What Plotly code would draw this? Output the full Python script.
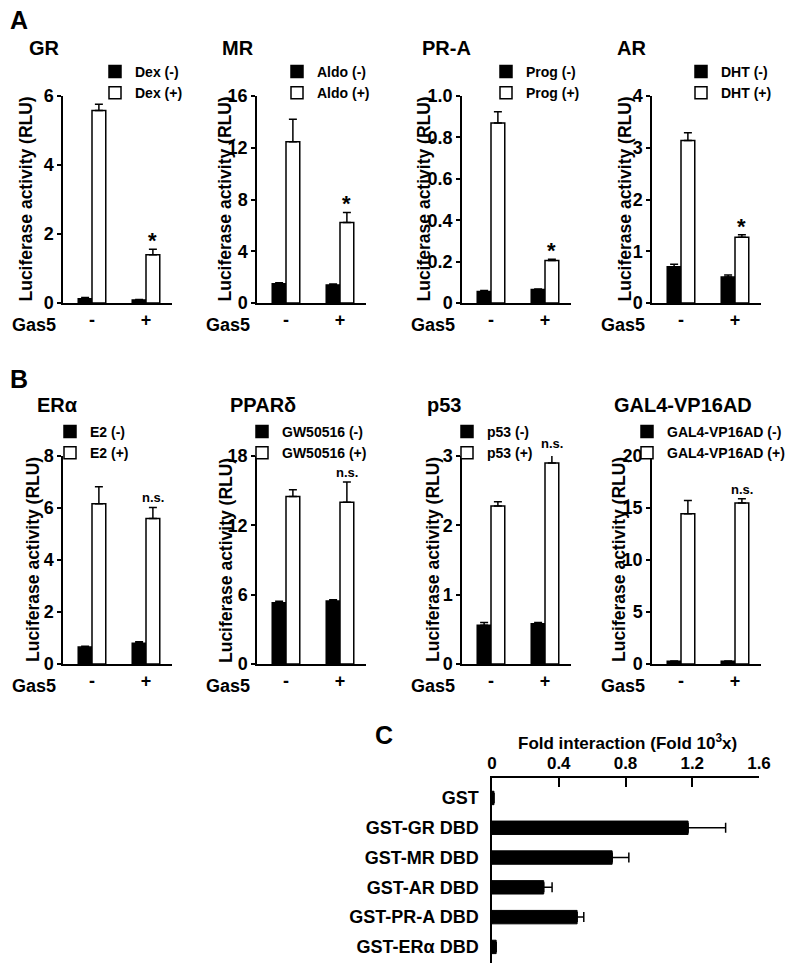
import plotly.graph_objects as go

W, H = 800, 973
FONT = "Liberation Sans, Arial, Helvetica, sans-serif"

# ---------------- data ----------------
gas5 = ["-", "+"]

# Panel A
GR_neg, GR_neg_err = [0.12, 0.09], [0.04, 0.01]
GR_pos, GR_pos_err = [5.58, 1.40], [0.18, 0.16]
GR_ticks = [0, 2, 4, 6]

MR_neg, MR_neg_err = [1.49, 1.40], [0.08, 0.06]
MR_pos, MR_pos_err = [12.46, 6.22], [1.74, 0.78]
MR_ticks = [0, 4, 8, 12, 16]

PRA_neg, PRA_neg_err = [0.056, 0.065], [0.004, 0.003]
PRA_pos, PRA_pos_err = [0.87, 0.205], [0.054, 0.006]
PRA_ticks = [0, 0.2, 0.4, 0.6, 0.8, 1.0]
PRA_ticklabels = ["0", "0.2", "0.4", "0.6", "0.8", "1.0"]

AR_neg, AR_neg_err = [0.70, 0.50], [0.05, 0.04]
AR_pos, AR_pos_err = [3.14, 1.27], [0.15, 0.05]
AR_ticks = [0, 1, 2, 3, 4]

# Panel B
ER_neg, ER_neg_err = [0.65, 0.80], [0.03, 0.06]
ER_pos, ER_pos_err = [6.16, 5.60], [0.66, 0.42]
ER_ticks = [0, 2, 4, 6, 8]

PPAR_neg, PPAR_neg_err = [5.30, 5.45], [0.12, 0.12]
PPAR_pos, PPAR_pos_err = [14.5, 14.0], [0.57, 1.74]
PPAR_ticks = [0, 6, 12, 18]

P53_neg, P53_neg_err = [0.56, 0.58], [0.04, 0.02]
P53_pos, P53_pos_err = [2.28, 2.90], [0.06, 0.15]
P53_ticks = [0, 1, 2, 3]

GAL_neg, GAL_neg_err = [0.26, 0.26], [0.02, 0.02]
GAL_pos, GAL_pos_err = [14.45, 15.47], [1.28, 0.43]
GAL_ticks = [0, 5, 10, 15, 20]

# Panel C
C_labels = ["GST", "GST-GR DBD", "GST-MR DBD", "GST-AR DBD", "GST-PR-A DBD", "GST-ERα DBD"]
C_values = [0.012, 1.175, 0.72, 0.31, 0.51, 0.025]
C_err = [0.0, 0.225, 0.10, 0.05, 0.04, 0.0]
C_ticks = [0, 0.4, 0.8, 1.2, 1.6]
C_ticklabels = ["0", "0.4", "0.8", "1.2", "1.6"]

# ---------------- panel table ----------------
panels = [
    dict(title="GR", lig="Dex", neg=GR_neg, neg_err=GR_neg_err, pos=GR_pos, pos_err=GR_pos_err,
         ticks=GR_ticks, labels=None, mark="*"),
    dict(title="MR", lig="Aldo", neg=MR_neg, neg_err=MR_neg_err, pos=MR_pos, pos_err=MR_pos_err,
         ticks=MR_ticks, labels=None, mark="*"),
    dict(title="PR-A", lig="Prog", neg=PRA_neg, neg_err=PRA_neg_err, pos=PRA_pos, pos_err=PRA_pos_err,
         ticks=PRA_ticks, labels=PRA_ticklabels, mark="*"),
    dict(title="AR", lig="DHT", neg=AR_neg, neg_err=AR_neg_err, pos=AR_pos, pos_err=AR_pos_err,
         ticks=AR_ticks, labels=None, mark="*"),
    dict(title="ERα", lig="E2", neg=ER_neg, neg_err=ER_neg_err, pos=ER_pos, pos_err=ER_pos_err,
         ticks=ER_ticks, labels=None, mark="n.s."),
    dict(title="PPARδ", lig="GW50516", neg=PPAR_neg, neg_err=PPAR_neg_err, pos=PPAR_pos, pos_err=PPAR_pos_err,
         ticks=PPAR_ticks, labels=None, mark="n.s."),
    dict(title="p53", lig="p53", neg=P53_neg, neg_err=P53_neg_err, pos=P53_pos, pos_err=P53_pos_err,
         ticks=P53_ticks, labels=None, mark="n.s."),
    dict(title="GAL4-VP16AD", lig="GAL4-VP16AD", neg=GAL_neg, neg_err=GAL_neg_err, pos=GAL_pos,
         pos_err=GAL_pos_err, ticks=GAL_ticks, labels=None, mark="n.s."),
]

# ---------------- geometry (pixels) ----------------
AX_LEFT = [63, 257, 462, 652]
AX_W = 109
ROW_Y = [(96, 303), (456, 664)]              # (top, bottom) of plot area
TITLE_X = [[27, 220, 420, 615], [35, 228, 425, 612]]
TITLE_Y = [48, 405]
YTITLE_X = [[25, 224, 423, 624], [33, 226, 433, 619]]
LEG_X = [[116, 298, 507, 702], [71, 263, 468, 648]]
LEG_Y = [68, 428]
LEG_GAP = [2, 0]
BAR_W = 0.255
UNIT_PX = 54.0
X_RANGE = [-29 / UNIT_PX, -29 / UNIT_PX + AX_W / UNIT_PX]


def px(x):
    return x / W


def py(y):
    return 1 - y / H


fig = go.Figure()
annotations = []
layout = dict(
    width=W, height=H, autosize=False,
    margin=dict(l=0, r=0, t=0, b=0, pad=0, autoexpand=False),
    paper_bgcolor="white", plot_bgcolor="white",
    font=dict(family=FONT, size=17, color="black", weight="bold"),
    barmode="overlay", showlegend=True,
)

for i, p in enumerate(panels):
    row, col = divmod(i, 4)
    n = i + 1
    xa = "x" if n == 1 else f"x{n}"
    ya = "y" if n == 1 else f"y{n}"
    leg = "legend" if n == 1 else f"legend{n}"
    top, bot = ROW_Y[row]
    left = AX_LEFT[col]
    ymax = p["ticks"][-1]

    err_style = dict(type="data", symmetric=False, arrayminus=[0, 0], color="black",
                     thickness=1.5, width=4)
    fig.add_trace(go.Bar(
        x=gas5, y=p["neg"], name=f"{p['lig']} (-)", xaxis=xa, yaxis=ya, legend=leg,
        legendgroup=f"g{n}a", offset=-BAR_W, width=BAR_W,
        marker=dict(color="black", line=dict(color="black", width=1.5)),
        error_y=dict(array=p["neg_err"], **err_style),
    ))
    fig.add_trace(go.Bar(
        x=gas5, y=p["pos"], name=f"{p['lig']} (+)", xaxis=xa, yaxis=ya, legend=leg,
        legendgroup=f"g{n}b", offset=0, width=BAR_W,
        marker=dict(color="white", line=dict(color="black", width=1.5)),
        error_y=dict(array=p["pos_err"], **err_style),
    ))

    xkey = "xaxis" if n == 1 else f"xaxis{n}"
    ykey = "yaxis" if n == 1 else f"yaxis{n}"
    layout[xkey] = dict(
        domain=[px(left), px(left + AX_W)], anchor=ya, type="category",
        categoryorder="array", categoryarray=gas5, range=X_RANGE,
        showline=True, linewidth=1.5, linecolor="black", ticks="",
        showgrid=False, zeroline=False, fixedrange=True, automargin=False,
        tickfont=dict(size=18, family=FONT, weight="bold"),
    )
    yax = dict(
        domain=[py(bot), py(top)], anchor=xa, range=[0, ymax],
        tickvals=p["ticks"], showline=True, linewidth=1.5, linecolor="black",
        ticks="outside", ticklen=4, tickwidth=1.5, tickcolor="black",
        showgrid=False, zeroline=False, fixedrange=True, automargin=False,
        tickfont=dict(size=18, family=FONT, weight="bold"),
    )
    if p["labels"] is not None:
        yax["ticktext"] = p["labels"]
    layout[ykey] = yax

    layout[leg] = dict(
        x=px(LEG_X[row][col] - 21), y=py(LEG_Y[row] - 12), xanchor="left", yanchor="top",
        bgcolor="rgba(0,0,0,0)", borderwidth=0, traceorder="normal",
        tracegroupgap=LEG_GAP[row], font=dict(size=14, family=FONT, weight="bold"),
        itemclick=False, itemdoubleclick=False,
    )

    # panel title
    annotations.append(dict(text=p["title"], x=px(TITLE_X[row][col]), y=py(TITLE_Y[row]),
                            xref="paper", yref="paper", xanchor="left", yanchor="middle",
                            showarrow=False, font=dict(size=20, family=FONT, weight="bold")))
    # y-axis title
    annotations.append(dict(text="Luciferase activity (RLU)", x=px(YTITLE_X[row][col]),
                            y=py((top + bot) / 2), xref="paper", yref="paper",
                            xanchor="center", yanchor="middle", textangle=-90, showarrow=False,
                            font=dict(size=17.5, family=FONT, weight="bold")))
    # Gas5 row label
    annotations.append(dict(text="Gas5", x=0, y=0, xref=f"{xa} domain", yref=f"{ya} domain",
                            xanchor="right", yanchor="middle", xshift=-5, yshift=-22,
                            showarrow=False, font=dict(size=18, family=FONT, weight="bold")))
    # significance mark above the Gas5(+) / ligand(+) error bar (y as fraction of the axis)
    is_star = p["mark"] == "*"
    annotations.append(dict(text=p["mark"], x=1 + BAR_W / 2,
                            y=(p["pos"][1] + p["pos_err"][1]) / ymax,
                            xref=xa, yref=f"{ya} domain", xanchor="center", yanchor="bottom",
                            yshift=-6 if is_star else 0, showarrow=False,
                            font=dict(size=22 if is_star else 13, family=FONT, weight="bold")))

# Panel C
fig.add_trace(go.Bar(
    x=C_values, y=C_labels, orientation="h", xaxis="x9", yaxis="y9", showlegend=False,
    width=0.45, marker=dict(color="black", line=dict(color="black", width=1)),
    error_x=dict(type="data", array=C_err, arrayminus=[0] * len(C_err), symmetric=False,
                 color="black", thickness=1.5, width=5),
))
C_LEFT, C_RIGHT, C_TOP, C_BOT = 492, 759, 778, 963
layout["xaxis9"] = dict(
    domain=[px(C_LEFT), px(C_RIGHT)], anchor="y9", side="top", range=[0, 1.6],
    tickvals=C_ticks, ticktext=C_ticklabels, ticks="inside", ticklen=9, tickwidth=1.5,
    tickcolor="black", showline=True, linewidth=1.5, linecolor="black",
    showgrid=False, zeroline=False, fixedrange=True, automargin=False,
    tickfont=dict(size=17, family=FONT, weight="bold"),
)
layout["yaxis9"] = dict(
    domain=[py(C_BOT), py(C_TOP)], anchor="x9", type="category",
    categoryorder="array", categoryarray=C_labels, range=[5.54, -0.67],
    showline=True, linewidth=1.5, linecolor="black", ticks="", ticklabelstandoff=8,
    showgrid=False, zeroline=False, fixedrange=True, automargin=False,
    tickfont=dict(size=18, family=FONT, weight="bold"),
)
annotations.append(dict(text="Fold interaction (Fold 10<sup>3</sup>x)", x=px(627), y=py(742),
                        xref="paper", yref="paper", xanchor="center", yanchor="middle",
                        showarrow=False, font=dict(size=17, family=FONT, weight="bold")))

# panel letters
for letter, (lx, ly) in zip(["A", "B", "C"], [(8, 20), (8, 379), (373, 735)]):
    annotations.append(dict(text=letter, x=px(lx), y=py(ly), xref="paper", yref="paper",
                            xanchor="left", yanchor="middle", showarrow=False,
                            font=dict(size=25, family=FONT, weight="bold")))

layout["annotations"] = annotations
fig.update_layout(**layout)
fig.write_html("out.html", config={"displayModeBar": False},
               post_script="document.body.style.margin='0';document.body.style.overflow='hidden';")
